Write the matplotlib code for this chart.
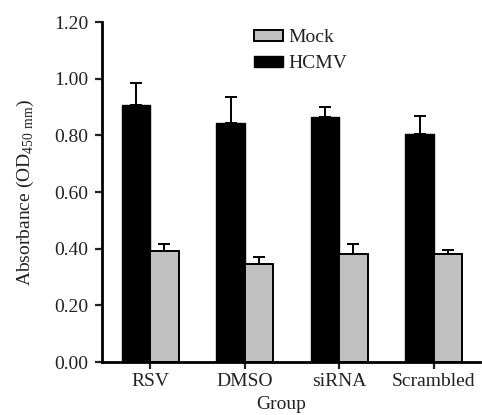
import numpy as np
import matplotlib
matplotlib.use("Agg")
from matplotlib import pyplot as plt

plt.rcParams['font.family'] = ['Liberation Serif', 'DejaVu Serif']
plt.rcParams['mathtext.fontset'] = 'custom'
plt.rcParams['mathtext.rm'] = 'Liberation Serif'

groups = ['RSV', 'DMSO', 'siRNA', 'Scrambled']
hcmv = [0.906, 0.844, 0.866, 0.805]
hcmv_err = [0.080, 0.092, 0.033, 0.062]
mock = [0.391, 0.345, 0.380, 0.380]
mock_err = [0.027, 0.025, 0.035, 0.015]

fig = plt.figure(figsize=(4.82, 4.15), dpi=100)
ax = fig.add_axes([102/482, 1 - 362/415, 378/482, 340/415])

x = np.arange(len(groups))
w = 0.3
ax.bar(x - w/2, hcmv, w, color='black', edgecolor='black', linewidth=1,
       label='HCMV', zorder=2)
ax.errorbar(x - w/2, hcmv, yerr=[np.zeros(4), hcmv_err], fmt='none',
            ecolor='black', elinewidth=1.4, capsize=4, capthick=1.4, zorder=1)
ax.bar(x + w/2, mock, w, color='#c0c0c0', edgecolor='black', linewidth=1.4,
       label='Mock', zorder=2)
ax.errorbar(x + w/2, mock, yerr=[np.zeros(4), mock_err], fmt='none',
            ecolor='black', elinewidth=1.4, capsize=4, capthick=1.4, zorder=1)

ax.set_xlim(-0.51, 3.49)
ax.set_ylim(0, 1.2)
yt = np.arange(0, 1.21, 0.2)
ax.set_yticks(yt)
ax.set_yticklabels(['%.2f' % v for v in yt])
ax.set_xticks(x)
ax.set_xticklabels(groups)
ax.tick_params(labelsize=14, width=1.6, length=5, direction='out', colors='#222222')
ax.tick_params(axis='y', pad=5)
ax.tick_params(axis='x', pad=3)
for s in ['top', 'right']:
    ax.spines[s].set_visible(False)
for s in ['left', 'bottom']:
    ax.spines[s].set_linewidth(2)

ax.set_ylabel(r'Absorbance (OD$_{450\ \mathrm{mm}}$)', fontsize=14, labelpad=13,
              color='#222222')
ax.set_xlabel('Group', fontsize=14, labelpad=5, color='#222222')
ax.xaxis.set_label_coords(0.475, -0.1)

h, l = ax.get_legend_handles_labels()
ax.legend(h[::-1], l[::-1], loc='upper left', bbox_to_anchor=(0.355, 1.03),
          frameon=False, fontsize=14, handlelength=1.5, handleheight=0.5,
          labelspacing=0.45, handletextpad=0.3, labelcolor='#222222')

fig.savefig('out.png', dpi=100)
